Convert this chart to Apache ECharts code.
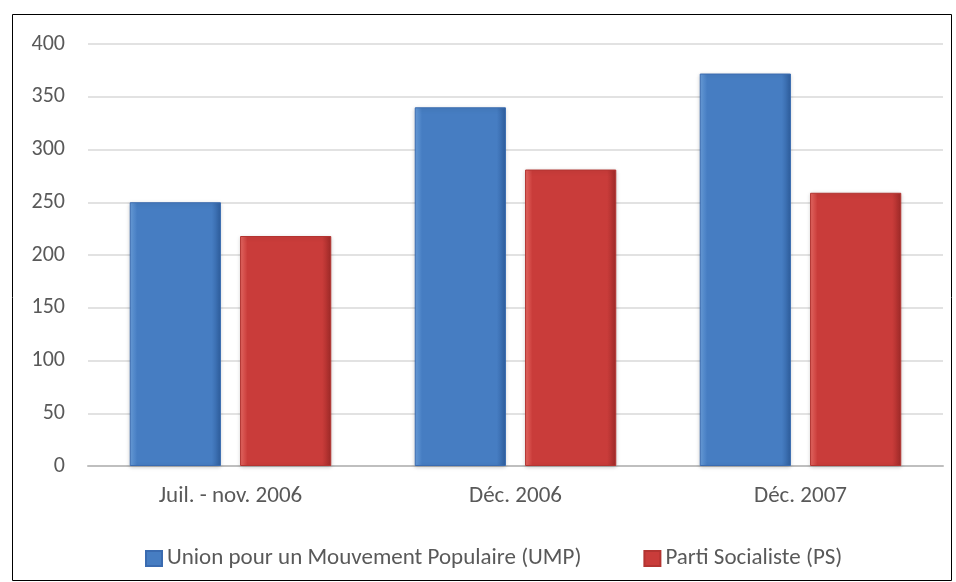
<!DOCTYPE html>
<html><head><meta charset="utf-8">
<script src="https://cdn.jsdelivr.net/npm/echarts@6/dist/echarts.min.js"></script>
<style>html,body{margin:0;padding:0;background:#fff}#c{width:956px;height:582px}</style>
</head><body><div id="c"></div>
<script>
const categories = ['Juil. - nov. 2006', 'Déc. 2006', 'Déc. 2007'];
const umpValues = [250, 340, 372];
const psValues = [218, 281, 259];
const seriesNames = ['Union pour un Mouvement Populaire (UMP)', 'Parti Socialiste (PS)'];

const chart = echarts.init(document.getElementById('c'));
function grad(light, mid, dark) {
  return new echarts.graphic.LinearGradient(0, 0, 1, 0, [
    {offset: 0, color: light}, {offset: 0.08, color: mid}, {offset: 0.9, color: mid}, {offset: 1, color: dark}
  ]);
}
const font = 'Carlito, Lato, "Open Sans", sans-serif';
chart.setOption({
  animation: false,
  textStyle: {fontFamily: font},
  graphic: [{type: 'rect', shape: {x: 12.5, y: 14.5, width: 939, height: 566}, style: {fill: 'none', stroke: '#000', lineWidth: 1}, silent: true}],
  grid: {left: 88, right: 13, top: 44, bottom: 116},
  legend: {
    top: 542, left: 140, itemWidth: 16, itemHeight: 15, itemGap: 62,
    icon: 'rect',
    textStyle: {color: '#595959', fontSize: 23, fontFamily: font},
    data: seriesNames
  },
  xAxis: {
    type: 'category', data: categories,
    axisLine: {lineStyle: {color: '#bfbfbf', width: 2}},
    axisTick: {show: false},
    axisLabel: {color: '#595959', fontSize: 23, margin: 19, fontFamily: font}
  },
  yAxis: {
    type: 'value', min: 0, max: 400, interval: 50,
    axisLine: {show: false}, axisTick: {show: false},
    splitLine: {lineStyle: {color: '#d9d9d9', width: 1.5}},
    axisLabel: {color: '#595959', fontSize: 22, margin: 23, fontFamily: font}
  },
  series: [
    {name: seriesNames[0], type: 'bar', data: umpValues, barWidth: '32%', barGap: '21%',
     itemStyle: {color: grad('#6a9fdc', '#467dc2', '#2f5f9f'), borderColor: '#3a6bb0', borderWidth: 1,
                 shadowBlur: 4, shadowColor: 'rgba(0,0,0,0.18)', shadowOffsetY: 1}},
    {name: seriesNames[1], type: 'bar', data: psValues, barWidth: '32%',
     itemStyle: {color: grad('#e86a64', '#c93c3a', '#a02a28'), borderColor: '#b33431', borderWidth: 1,
                 shadowBlur: 4, shadowColor: 'rgba(0,0,0,0.18)', shadowOffsetY: 1}}
  ]
});
</script></body></html>
